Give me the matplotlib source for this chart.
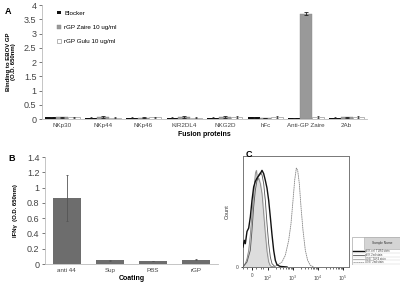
import matplotlib.pyplot as plt
import numpy as np
from matplotlib.patches import Rectangle
from matplotlib.lines import Line2D
from matplotlib.ticker import FuncFormatter

plt.rcParams['font.family'] = ['Liberation Sans', 'DejaVu Sans']

# ===== Panel A data =====
proteins = ["NKp30", "NKp44", "NKp46", "KIR2DL4", "NKG2D", "hFc", "Anti-GP Zaire", "2Ab"]
blocker = [0.07, 0.05, 0.05, 0.05, 0.05, 0.06, 0.04, 0.05]
blocker_err = [0.01, 0.01, 0.01, 0.01, 0.01, 0.01, 0.01, 0.01]
zaire = [0.06, 0.07, 0.05, 0.07, 0.08, 0.04, 3.70, 0.06]
zaire_err = [0.01, 0.02, 0.01, 0.02, 0.03, 0.01, 0.06, 0.02]
gulu = [0.06, 0.05, 0.06, 0.05, 0.07, 0.07, 0.07, 0.07]
gulu_err = [0.01, 0.01, 0.01, 0.01, 0.02, 0.02, 0.02, 0.02]

# ===== Panel B data =====
coating = ["anti 44", "Sup", "PBS", "rGP"]
ifng = [0.86, 0.05, 0.04, 0.055]
ifng_err = [0.30, 0.005, 0.005, 0.008]

# ===== Panel C data (flow histograms, x in display decades, y in fraction of max) =====
tlr4_pnk_x = [1.0, 1.053, 1.093, 1.16, 1.227, 1.293, 1.36, 1.427, 1.493, 1.56, 1.627, 1.693,
              1.76, 1.827, 1.893, 1.96, 2.027, 2.093, 2.16, 2.227, 2.293, 2.36, 2.49, 2.76]
tlr4_pnk_y = [0.18, 0.24, 0.21, 0.32, 0.35, 0.45, 0.60, 0.72, 0.77, 0.80, 0.82, 0.84,
              0.87, 0.84, 0.78, 0.71, 0.60, 0.45, 0.29, 0.15, 0.06, 0.02, 0.005, 0.0]
second_pnk_x = [1.0, 1.093, 1.16, 1.227, 1.293, 1.36, 1.427, 1.493, 1.533, 1.587, 1.627,
                1.693, 1.76, 1.827, 1.893, 1.96, 2.027, 2.093, 2.227]
second_pnk_y = [0.015, 0.03, 0.075, 0.15, 0.29, 0.48, 0.66, 0.84, 0.87, 0.78, 0.80,
                0.75, 0.66, 0.48, 0.30, 0.14, 0.045, 0.01, 0.0]
tlr4_u937_x = [1.0, 1.16, 1.293, 1.36, 1.427, 1.493, 1.56, 1.627, 1.693, 1.76, 1.827,
               1.893, 1.96, 2.027, 2.093, 2.16, 2.293]
tlr4_u937_y = [0.0, 0.045, 0.15, 0.33, 0.54, 0.69, 0.78, 0.83, 0.85, 0.83, 0.75,
               0.60, 0.39, 0.21, 0.09, 0.03, 0.0]
gp_x = [2.227, 2.427, 2.56, 2.693, 2.827, 2.92, 3.0, 3.067, 3.133, 3.187, 3.253,
        3.32, 3.4, 3.493, 3.587, 3.693, 3.827]
gp_y = [0.0, 0.025, 0.045, 0.105, 0.24, 0.39, 0.60, 0.78, 0.89, 0.87, 0.75,
        0.54, 0.33, 0.15, 0.06, 0.015, 0.0]
sample_names = ["pNK cell TLR4 stain", "pNK 2nd stain", "U937 TLR4 stain", "U937 2nd stain"]

fig = plt.figure(figsize=(4, 2.82), dpi=100)

tick_col = "#444444"

# ===== A =====
axA = fig.add_axes([0.105, 0.578, 0.8125, 0.404])
x = np.arange(len(proteins))
w = 0.29
axA.bar(x - w, blocker, w, color="#111111", yerr=blocker_err,
        error_kw=dict(ecolor="#222222", elinewidth=0.5, capsize=1, capthick=0.5), label="Blocker")
axA.bar(x, zaire, w, color="#999999", edgecolor="#888888", linewidth=0.3, yerr=zaire_err,
        error_kw=dict(ecolor="#222222", elinewidth=0.6, capsize=1.5, capthick=0.6), label="rGP Zaire 10 ug/ml")
axA.bar(x + w, gulu, w, color="white", edgecolor="#999999", linewidth=0.5, yerr=gulu_err,
        error_kw=dict(ecolor="#222222", elinewidth=0.5, capsize=1, capthick=0.5), label="rGP Gulu 10 ug/ml")
axA.set_xlim(-0.5, len(proteins) - 0.5)
axA.set_ylim(0, 4)
axA.set_yticks(np.arange(0, 4.01, 0.5))
axA.yaxis.set_major_formatter(FuncFormatter(lambda v, p: f"{v:g}"))
axA.set_xticks(x)
axA.set_xticklabels(proteins, fontsize=4.5, color=tick_col)
axA.tick_params(axis="y", labelsize=6.5, colors=tick_col, length=2, width=0.5, pad=2)
axA.tick_params(axis="x", length=0, pad=3)
for s in ["top", "right"]:
    axA.spines[s].set_visible(False)
axA.spines["left"].set_color("#bbbbbb")
axA.spines["bottom"].set_color("#bbbbbb")
axA.spines["left"].set_linewidth(0.6)
axA.spines["bottom"].set_linewidth(0.6)
axA.set_xlabel("Fusion proteins", fontsize=5, fontweight="bold", labelpad=2)
axA.set_ylabel("Binding to EBOV GP\n(O.D. 650nm)", fontsize=4.3, fontweight="bold", labelpad=6, linespacing=1.0)
axA.legend(loc="upper left", bbox_to_anchor=(0.03, 1.0), frameon=False, fontsize=4.5,
           handlelength=0.5, handleheight=0.5, labelspacing=1.5, handletextpad=0.6)
fig.text(0.012, 0.975, "A", fontsize=6.5, fontweight="bold", va="top")

# ===== B =====
axB = fig.add_axes([0.1125, 0.0638, 0.4325, 0.379])
xb = np.arange(len(coating))
axB.bar(xb, ifng, 0.65, color="#6d6d6d", yerr=ifng_err,
        error_kw=dict(ecolor="#555555", elinewidth=0.6, capsize=1, capthick=0.6))
axB.set_xlim(-0.5, len(coating) - 0.5)
axB.set_ylim(0, 1.4)
axB.set_yticks(np.arange(0, 1.41, 0.2))
axB.yaxis.set_major_formatter(FuncFormatter(lambda v, p: f"{round(v, 1):g}"))
axB.set_xticks(xb)
axB.set_xticklabels(coating, fontsize=4.5, color=tick_col)
axB.tick_params(axis="y", labelsize=6.5, colors=tick_col, length=2, width=0.5, pad=2)
axB.tick_params(axis="x", length=0, pad=3)
for s in ["top", "right"]:
    axB.spines[s].set_visible(False)
axB.spines["left"].set_color("#bbbbbb")
axB.spines["bottom"].set_color("#bbbbbb")
axB.spines["left"].set_linewidth(0.6)
axB.spines["bottom"].set_linewidth(0.6)
axB.set_xlabel("Coating", fontsize=5, fontweight="bold", labelpad=1)
axB.set_ylabel("IFN\u03b3  (O.D. 650nm)", fontsize=4.3, fontweight="bold", labelpad=6)
fig.text(0.022, 0.455, "B", fontsize=6.5, fontweight="bold", va="top")

# ===== C =====
axC = fig.add_axes([0.6075, 0.0532, 0.265, 0.394])
axC.fill_between(second_pnk_x, second_pnk_y, color="#dddddd", zorder=1)
axC.plot(second_pnk_x, second_pnk_y, color="#888888", lw=0.6, zorder=2)
axC.plot(tlr4_u937_x, tlr4_u937_y, color="#555555", lw=0.6, zorder=3)
axC.plot(gp_x, gp_y, color="#888888", lw=0.6, ls=(0, (2, 0.6)), zorder=3)
axC.plot(tlr4_pnk_x, tlr4_pnk_y, color="#111111", lw=1.0, zorder=4)
axC.set_xlim(1.0, 5.24)
axC.set_ylim(0, 1.0)
axC.set_xticks([1.36, 2, 3, 4, 5])
axC.set_xticklabels(["0", "$10^2$", "$10^3$", "$10^4$", "$10^5$"], fontsize=3.3, color=tick_col)
axC.set_xticks([1.0, 1.15, 1.5, 1.7, 1.8, 2.3, 2.48, 2.6, 2.7, 2.78, 2.85, 2.9, 2.95,
                3.3, 3.48, 3.6, 3.7, 3.78, 3.85, 3.9, 3.95,
                4.3, 4.48, 4.6, 4.7, 4.78, 4.85, 4.9, 4.95], minor=True)
axC.tick_params(axis="x", which="major", length=2.5, width=0.6, pad=2)
axC.tick_params(axis="x", which="minor", length=1.2, width=0.4)
axC.set_yticks([0])
axC.set_yticklabels(["0"], fontsize=3.5, color=tick_col)
axC.tick_params(axis="y", length=1.5, width=0.5, pad=2)
for s in axC.spines.values():
    s.set_color("#777777")
    s.set_linewidth(0.7)
axC.set_ylabel("Count", fontsize=4, color="#333333", labelpad=4)
fig.text(0.615, 0.468, "C", fontsize=6.5, fontweight="bold", va="top")

# sample name table
axT = fig.add_axes([0.88, 0.0603, 0.12, 0.0993])
axT.set_xlim(0, 1)
axT.set_ylim(0, 1)
axT.axis("off")
axT.add_patch(Rectangle((0, 0), 1, 1, facecolor="white", edgecolor="#aaaaaa", lw=0.5))
axT.add_patch(Rectangle((0.25, 0.58), 0.75, 0.42, facecolor="#d4d4d4", edgecolor="#aaaaaa", lw=0.4))
axT.text(0.62, 0.79, "Sample Name", fontsize=2.3, ha="center", va="center", color="#333333")
row_styles = [("#111111", 1.0, "-"), ("#555555", 0.6, "-"), ("#888888", 0.5, "-"), ("#888888", 0.5, (0, (2, 0.6)))]
for i, (name, (c, lw, ls)) in enumerate(zip(sample_names, row_styles)):
    yy = 0.5 - i * 0.135
    axT.add_line(Line2D([0.02, 0.25], [yy, yy], color=c, lw=lw, ls=ls))
    axT.text(0.28, yy, name, fontsize=2.0, va="center", color="#444444")
    axT.add_line(Line2D([0, 1], [yy - 0.067, yy - 0.067], color="#cccccc", lw=0.3))

plt.savefig("out.png", dpi=100)
